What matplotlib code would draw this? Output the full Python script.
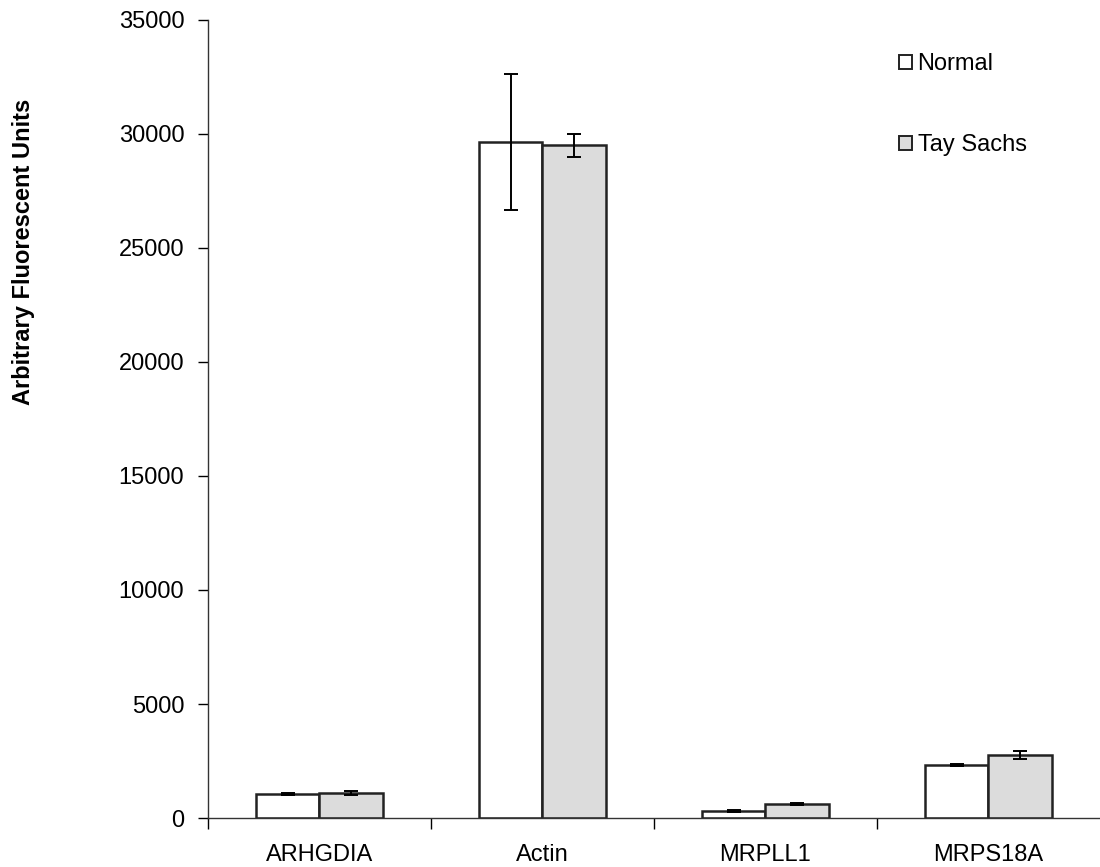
import numpy as np
import matplotlib.pyplot as plt

plt.rcParams['font.family'] = ['Liberation Sans', 'DejaVu Sans']

# gene expression, mean and error per group
genes = ['ARHGDIA', 'Actin', 'MRPLL1', 'MRPS18A']
normal = [1050, 29650, 300, 2320]
normal_err = [60, 3000, 30, 30]
tay_sachs = [1100, 29500, 620, 2760]
tay_sachs_err = [80, 500, 50, 180]

fig = plt.figure(figsize=(11, 8.67), dpi=100)
ax = fig.add_axes([0.189, 0.0565, 0.815, 0.9205])

x = np.arange(len(genes))
w = 0.286
err_kw = dict(ecolor='black', elinewidth=1.4, capsize=5, capthick=1.4)
ax.bar(x - w / 2, normal, w, yerr=normal_err, color='white',
       edgecolor='#222222', linewidth=1.8, label='Normal', error_kw=err_kw)
ax.bar(x + w / 2, tay_sachs, w, yerr=tay_sachs_err, color='#dcdcdc',
       edgecolor='#222222', linewidth=1.8, label='Tay Sachs', error_kw=err_kw)

ax.set_xlim(-0.5, 3.52)
ax.set_ylim(0, 35000)
ax.set_yticks(np.arange(0, 35001, 5000))
ax.set_xticks(np.arange(-0.5, 3.5, 1.0))
ax.set_xticklabels([])
ax.set_xticks(x, minor=True)
ax.set_xticklabels(genes, minor=True, fontsize=17)
ax.tick_params(axis='x', which='minor', length=0, pad=19)
ax.tick_params(axis='x', which='major', length=8, width=1, direction='out')
ax.tick_params(axis='y', length=7, width=1, labelsize=17, pad=10)

for s in ['top', 'right']:
    ax.spines[s].set_visible(False)
for s in ['left', 'bottom']:
    ax.spines[s].set_linewidth(1.0)
    ax.spines[s].set_color('#333333')

fig.text(0.021, 0.71, 'Arbitrary Fluorescent Units', rotation=90,
         fontsize=17, fontweight='bold', ha='center', va='center')

leg = ax.legend(loc='upper left', bbox_to_anchor=(0.76, 0.97), frameon=False,
                fontsize=17, handlelength=0.55, handleheight=0.55,
                handletextpad=0.25, labelspacing=2.5, borderaxespad=0)
for h in leg.legend_handles:
    h.set_linewidth(1.4)

fig.savefig('out.png', dpi=100)
